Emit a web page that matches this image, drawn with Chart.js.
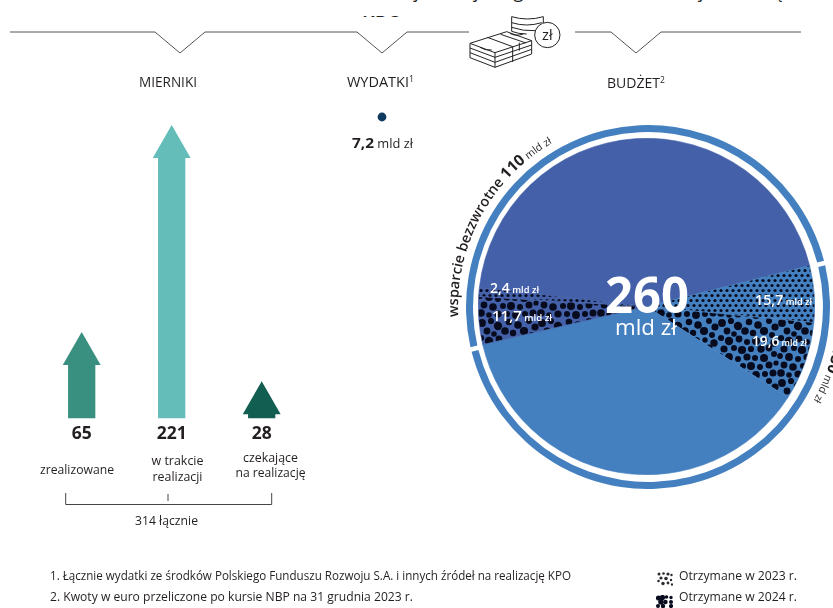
<!DOCTYPE html>
<html lang="pl">
<head>
<meta charset="utf-8">
<title>KPO</title>
<style>
html,body{margin:0;padding:0;background:#fff;width:833px;height:608px;overflow:hidden}
canvas,svg,.clip{position:absolute;display:block}
svg{left:0;top:0;pointer-events:none;font-family:"Open Sans",sans-serif;fill:#231f20}
.clip{overflow:hidden;white-space:nowrap;font-family:"Open Sans",sans-serif;color:#231f20}
</style>
<script src="https://cdn.jsdelivr.net/npm/chart.js@4"></script>
</head>
<body>
<div class="clip" style="left:0;top:0;width:833px;height:6px"><span style="position:absolute;left:347px;top:-21px;font-size:18px;font-weight:500;line-height:24px;word-spacing:12px">Realizacja Krajowego Planu Odbudowy i Zwiększania Odporności</span></div>
<div class="clip" style="left:358px;top:15px;width:50px;height:2px"><span style="position:absolute;left:4px;top:-6px;font-size:20px;font-weight:600;line-height:27px">KPO</span></div>
<canvas id="bars" width="833" height="608" style="left:0;top:0"></canvas>
<canvas id="spend" width="44" height="34" style="left:360px;top:100px"></canvas>
<canvas id="ring" width="364" height="364" style="left:466px;top:125px"></canvas>
<canvas id="pie" width="337" height="337" style="left:478px;top:138px"></canvas>
<canvas id="swatch23" width="16" height="14" style="left:657px;top:572px"></canvas>
<canvas id="swatch24" width="17" height="13" style="left:656px;top:595px"></canvas>
<svg id="ov" width="833" height="608" xmlns="http://www.w3.org/2000/svg"></svg>
<script>
// ---- values ----
const metricCategories = [['zrealizowane'], ['w trakcie', 'realizacji'], ['czekające', 'na realizację']];
const metricValues = [65, 221, 28];
const metricTotal = 314;
const spendingValue = [7.2];
const budgetTotal = 260;
const budgetGroups = ['wsparcie bezzwrotne', 'pożyczki'];
const budgetGroupValues = [110, 150];
const sliceNames = ['wsparcie bezzwrotne – pozostałe', 'pożyczki 2023', 'pożyczki 2024', 'pożyczki – pozostałe', 'wsparcie 2024', 'wsparcie 2023'];
const sliceValues = [95.9, 15.7, 19.6, 114.7, 11.7, 2.4];
// the drawn wedges are not proportional to the printed amounts: these are the sweeps, in degrees
const sliceSweeps = [159.4, 19.6, 27.3, 134.1, 16.5, 3.1];
const groupSweeps = [179.5, 180.5];

const C = {text:'#231f20', line:'#555', top:'#4360a8', bottom:'#4480c0', ink:'#080b1e'};
const arrowColors = ['#3a9080', '#65bdb9', '#125f52'];
const num = v => String(v).replace('.', ',');

// ---- pie textures ----
const blobs = [[4,5,3.9],[13,3,3.1],[20,8,4.2],[31,4,3.3],[40,7,3.8],[51,3,3],[57,9,3.6],
[9,13,3.4],[16,16,2.8],[27,13,3.8],[35,15,3.2],[46,13,4.1],[54,17,3],
[3,20,3.1],[11,23,4.2],[21,21,3.4],[29,24,3],[38,23,4],[47,22,2.7],[56,25,3.7],
[6,31,3.6],[16,30,3],[24,32,4.1],[33,31,3.1],[43,31,3.7],[51,30,3.4],
[2,38,2.9],[11,39,3.9],[20,41,3],[29,39,3.6],[37,40,3],[46,40,4],[56,36,3],
[6,47,3.4],[15,49,3.8],[25,48,3],[33,48,4],[42,49,3],[51,47,3.5],[58,45,2.6],
[3,55,3.8],[11,57,2.8],[20,56,3.6],[29,56,3],[38,57,3.9],[47,56,3],[55,55,3.5]];
function tile(base, kind){
  const c = document.createElement('canvas');
  const g = c.getContext('2d');
  if(kind === 'small'){
    c.width = 12; c.height = 10;
    if(base){ g.fillStyle = base; g.fillRect(0,0,12,10); }
    g.fillStyle = C.ink;
    [[3,2.5],[9,2.5],[0,7.5],[6,7.5],[12,7.5]].forEach(([x,y])=>{g.beginPath();g.arc(x,y,1.6,0,7);g.fill();});
  } else {
    c.width = 60; c.height = 60;
    if(base){ g.fillStyle = base; g.fillRect(0,0,60,60); }
    g.fillStyle = C.ink;
    blobs.forEach(([x,y,r])=>{ for(const dx of [-60,0,60]) for(const dy of [-60,0,60]){ g.beginPath();g.arc(x+dx,y+dy,r,0,7);g.fill(); } });
  }
  return g.createPattern(c,'repeat');
}

// ---- metric arrows: bars whose elements are drawn as arrows ----
const HEAD_H = 33, HEAD_RATIO = 1.39;
function drawArrow(ctx){
  const {x, y, base, width, options} = this;
  const s = width/2, h = s*HEAD_RATIO;
  ctx.save();
  ctx.fillStyle = options.backgroundColor;
  ctx.beginPath();
  ctx.moveTo(x-s, base); ctx.lineTo(x-s, y+HEAD_H); ctx.lineTo(x-h, y+HEAD_H);
  ctx.lineTo(x, y); ctx.lineTo(x+h, y+HEAD_H); ctx.lineTo(x+s, y+HEAD_H); ctx.lineTo(x+s, base);
  ctx.closePath(); ctx.fill();
  ctx.restore();
}
const arrowPlugin = {id:'arrowBars', afterDatasetUpdate(chart, args){
  chart.getDatasetMeta(args.index).data.forEach(el => { el.draw = drawArrow; });
}};
const barsChart = new Chart(document.getElementById('bars'), {
  type:'bar',
  data:{labels:metricCategories, datasets:[{label:'mierniki', data:metricValues, backgroundColor:arrowColors, barPercentage:0.303, categoryPercentage:1, clip:false}]},
  plugins:[arrowPlugin],
  options:{responsive:false, animation:false, devicePixelRatio:1,
    layout:{padding:{left:36.7, right:526.3, top:125, bottom:189.7}},
    plugins:{legend:{display:false}, tooltip:{enabled:false}},
    scales:{x:{display:false}, y:{display:false, min:0, max:221}}}
});

// ---- spending dot ----
new Chart(document.getElementById('spend'), {
  type:'scatter',
  data:{datasets:[{label:'wydatki', data:spendingValue.map(v=>({x:0,y:v})), pointRadius:4.4, backgroundColor:'#0e3a60', borderWidth:0}]},
  options:{responsive:false, animation:false, devicePixelRatio:1, layout:{padding:0},
    plugins:{legend:{display:false}, tooltip:{enabled:false}},
    scales:{x:{display:false,min:-1,max:1}, y:{display:false,min:0,max:14.4}}}
});

// ---- outer ring ----
new Chart(document.getElementById('ring'), {
  type:'doughnut',
  data:{labels:budgetGroups, datasets:[{data:groupSweeps, backgroundColor:C.bottom, borderWidth:0, spacing:3}]},
  options:{responsive:false, animation:false, devicePixelRatio:1, rotation:256.5, cutout:'96.1%', layout:{padding:0},
    plugins:{legend:{display:false}, tooltip:{enabled:false}}}
});

// ---- inner pie ----
new Chart(document.getElementById('pie'), {
  type:'pie',
  data:{labels:sliceNames, datasets:[{data:sliceSweeps,
    backgroundColor:[C.top, tile(C.bottom,'small'), tile(C.bottom,'blob'), C.bottom, tile(C.top,'blob'), tile(C.top,'small')],
    borderColor:[C.top, C.bottom, C.bottom, C.bottom, C.top, C.top], borderWidth:0.6}]},
  options:{responsive:false, animation:false, devicePixelRatio:1, rotation:276.5, layout:{padding:0},
    plugins:{legend:{display:false}, tooltip:{enabled:false}}}
});

// ---- legend swatches ----
function swatch(id, kind){
  const c = document.getElementById(id), g = c.getContext('2d');
  g.fillStyle = kind === 'a' ? '#2a2a30' : C.ink;
  const pts = kind === 'a'
    ? [[2,2,1.5],[6.5,1.5,1.3],[11,2,1.6],[14.5,3,1.2],[4,6,1.6],[9,6.5,1.8],[14,8,1.2],[1.5,9,1.3],[6,11.5,1.7],[11,11,1.4],[15,12.5,1.2]]
    : [[2.5,3,2.6],[6.5,2.5,2.6],[10.5,2,1.8],[15,2.5,1.7],[5,7,2.8],[9.5,7,2.2],[15,7,2],[2,11,2],[7,11,2.2],[15,11,2.1]];
  pts.forEach(([x,y,r])=>{g.beginPath();g.arc(x,y,r,0,7);g.fill();});
}
swatch('swatch23','a'); swatch('swatch24','b');

// ---- text and rules overlay ----
const ov = document.getElementById('ov'), NS = 'http://www.w3.org/2000/svg';
function el(name, attrs, parent){
  const e = document.createElementNS(NS, name);
  for(const k in attrs) e.setAttribute(k, attrs[k]);
  (parent||ov).appendChild(e);
  return e;
}
// parts: [string, fontSize, weight, baselineShift]
function addParts(t, parts){
  parts.forEach(([s,size,w,dy])=>{
    const a = {'font-size':size, 'font-weight':w||400};
    if(dy) a.dy = dy;
    const sp = el('tspan', a, t); sp.textContent = s;
  });
}
function label(x, y, parts, opts){
  opts = opts||{};
  const a = {x, y, fill:opts.fill||C.text};
  if(opts.anchor) a['text-anchor'] = opts.anchor;
  if(opts.w){ a.textLength = opts.w; a.lengthAdjust = 'spacingAndGlyphs'; }
  const t = el('text', a);
  addParts(t, parts);
  return t;
}
function poly(points, stroke, w, fill){
  el('polyline', {points, fill:fill||'none', stroke:stroke||C.line, 'stroke-width':w||1});
}
// header rules
poly('10,32 155,32 180,53 205,32 357,32 382,53 407,32 469,32');
poly('575,32 611,32 636,53 661,32 801,32');
label(139, 87, [['MIERNIKI',14]], {w:58});
label(347, 87, [['WYDATKI',14],['1',8.5,400,-5]], {w:67});
label(607, 88, [['BUDŻET',14],['2',8.5,400,-5]], {w:58});

// metrics labels, bound to the bars
const bars = barsChart.getDatasetMeta(0).data;
const valueY = 439;
const catY = [[474],[465,481],[461.5,477]];
const catW = [[74],[52,50],[55,70]];
const catShift = [-4.7, 5.8, 8.8];
metricValues.forEach((v,i)=>{
  label(bars[i].x, valueY, [[String(v),17.5,700]], {anchor:'middle'});
  metricCategories[i].forEach((line,j)=>{
    const w = catW[i][j];
    label(bars[i].x + catShift[i] - w/2, catY[i][j], [[line,13.5]], {w});
  });
});
// bracket
poly('65.7,493 65.7,504.5 271.7,504.5 271.7,493', '#444');
poly('168,494 168,501', '#444');
label(135, 525, [[metricTotal+' łącznie',13]], {w:63});

// spending value
label(352, 148, [[num(spendingValue[0]),15,700],[' mld zł',12.5]], {w:61});

// budget labels
const W = '#fff';
label(490, 293, [[num(sliceValues[5]),13.5,600],[' mld zł',9,600]], {fill:W, w:49});
label(492, 321, [[num(sliceValues[4]),14,600],[' mld zł',9,600]], {fill:W, w:60});
label(755, 305, [[num(sliceValues[1]),14,600],[' mld zł',9,600]], {fill:W, w:57});
label(752, 346, [[num(sliceValues[2]),14,600],[' mld zł',9,600]], {fill:W, w:55});
label(605, 313, [[String(budgetTotal),50,700]], {fill:W, w:84});
label(615, 335, [['mld zł',22]], {fill:W, w:62});

// curved labels around the ring
const CX = 648, CY = 307;
function arcPath(id, r, a0, a1){
  const p = a => [CX + r*Math.sin(a*Math.PI/180), CY - r*Math.cos(a*Math.PI/180)];
  const [x0,y0] = p(a0), [x1,y1] = p(a1);
  el('path', {id, d:`M${x0} ${y0} A${r} ${r} 0 0 1 ${x1} ${y1}`, fill:'none'});
}
arcPath('arcL', 190, 267, 335);
arcPath('arcR', 190, 60, 119.5);
const l = el('text', {fill:C.text});
const lp = el('textPath', {href:'#arcL'}, l);
addParts(lp, [[budgetGroups[0]+' ',14.3,600],[String(budgetGroupValues[0]),15.5,700],[' mld zł',10.5,400]]);
const r = el('text', {fill:C.text, 'text-anchor':'end'});
const rp = el('textPath', {href:'#arcR', startOffset:'100%'}, r);
addParts(rp, [[budgetGroups[1]+' ',14.3,600],[String(budgetGroupValues[1]),15.5,700],[' mld zł',10.5,400]]);

// money icon
const ic = el('g', {transform:'translate(460 10) scale(0.3333)', fill:'none', stroke:'#222', 'stroke-width':3, 'stroke-linejoin':'round'});
const ip = d => el('path', {d}, ic);
ip('M155 20 Q202 34 250 20 M155 20 V64 Q175 72 200 72 M155 38 Q200 52 245 38 M155 52 Q190 64 225 62 M250 20 V45');
ip('M30 100 L140 65 L215 92 L105 128 Z');
ip('M30 100 V143 L105 172 L215 132 V92 M30 114 L105 142 L215 105 M30 128 L105 157 L215 118');
ip('M105 128 V172 M82 82 L158 110 V156 M122 73 L198 99 M60 112 Q75 122 95 120 M150 70 Q165 80 190 72 M178 98 V122');
el('circle', {cx:262, cy:75, r:38, fill:'#fff'}, ic);
const zl = el('text', {x:262, y:90, 'text-anchor':'middle', 'font-size':44, stroke:'none', fill:'#222'}, ic);
zl.textContent = 'zł';

// footnotes and legend
label(50, 580, [['1. Łącznie wydatki ze środków Polskiego Funduszu Rozwoju S.A. i innych źródeł na realizację KPO',12.3]], {w:521});
label(50, 601, [['2. Kwoty w euro przeliczone po kursie NBP na 31 grudnia 2023 r.',12.3]], {w:363});
label(679, 580, [['Otrzymane w 2023 r.',12.3]], {w:118});
label(679, 601, [['Otrzymane w 2024 r.',12.3]], {w:118});
</script>
</body>
</html>
